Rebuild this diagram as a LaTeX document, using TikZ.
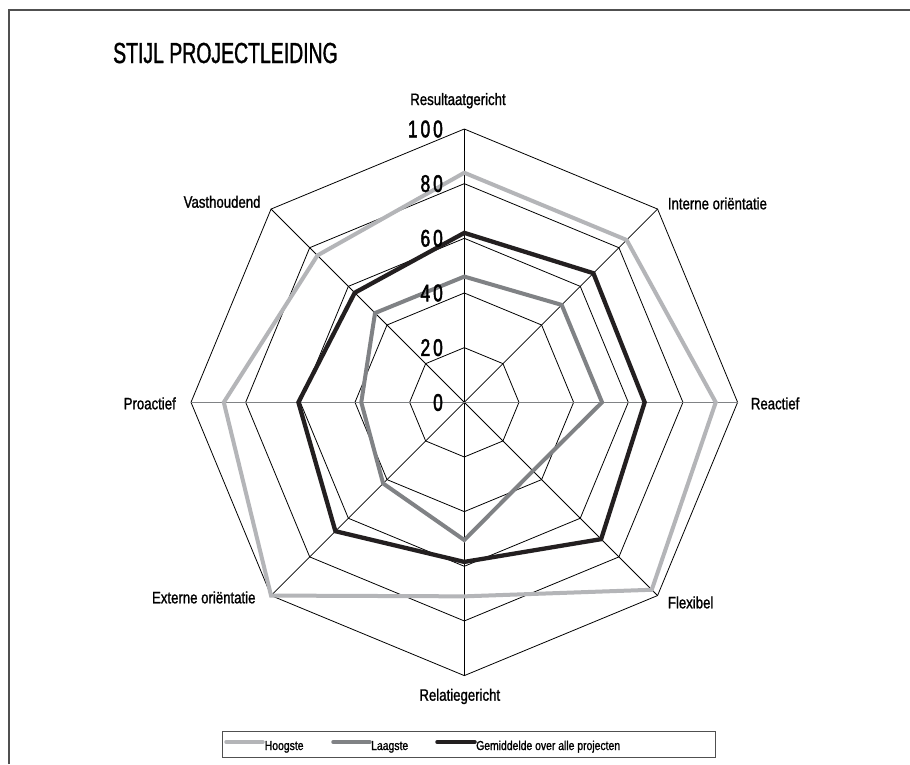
\documentclass[tikz,border=0pt]{standalone}
\usepackage{fontspec}
\setmainfont{Liberation Sans}
\newfontfamily\titlefont{Liberation Sans}[FakeStretch=0.67,FakeBold=1.2]
\newfontfamily\lblfont{Liberation Sans}[FakeStretch=0.8,FakeBold=1.2]
\newfontfamily\numfont{Liberation Sans}[FakeStretch=0.72,FakeBold=2]
\definecolor{hicol}{RGB}{180,181,184}
\definecolor{locol}{RGB}{128,130,133}
\definecolor{avcol}{RGB}{35,31,32}
\definecolor{framecol}{RGB}{80,80,80}
\begin{document}
\begin{tikzpicture}[x=1pt,y=-1pt,
  gridline/.style={line width=0.8pt, black},
  hi/.style={line width=4pt, draw=hicol},
  lo/.style={line width=4pt, draw=locol},
  av/.style={line width=4.3pt, draw=avcol},
  lbl/.style={font=\lblfont\fontsize{16.5}{18}\selectfont, inner sep=0pt},
  num/.style={font=\numfont\fontsize{24}{26}\selectfont, inner sep=0pt, anchor=east},
  leg/.style={font=\lblfont\fontsize{13}{15}\selectfont, inner sep=0pt, anchor=base west}]
\useasboundingbox (0,0) rectangle (910,764);
\fill[white] (0,0) rectangle (910,764);
\draw[framecol, line width=1.4pt] (9,764) -- (9,10) -- (910,10);

\node[anchor=base west, inner sep=0pt, font=\titlefont\fontsize{29}{32}\selectfont] (title) at (113,63) {STIJL PROJECTLEIDING};

\begin{scope}[shift={(464.3,402.3)}]
  \coordinate (C) at (0,0);
  \foreach \k in {1,...,5}{
    \pgfmathsetmacro\rr{\k*54.66}
    \draw[gridline] (0:\rr pt) -- (45:\rr pt) -- (90:\rr pt) -- (135:\rr pt) -- (180:\rr pt) -- (225:\rr pt) -- (270:\rr pt) -- (315:\rr pt) -- cycle;
  }
  \foreach \a in {45,90,135,225,270,315}
    \draw[gridline] (C) -- (\a:273.3pt);
  \draw[line width=1pt, locol] (180:273.3pt) -- (0:273.3pt);

  \draw[hi] (90:{84*2.733pt}) -- (45:{84*2.733pt}) -- (0:{92*2.733pt}) -- (-45:{97*2.733pt}) -- (-90:{71*2.733pt}) -- (-135:{100*2.733pt}) -- (180:{88*2.733pt}) -- (135:{76*2.733pt}) -- cycle;
  \draw[lo] (90:{46*2.733pt}) -- (45:{50.4*2.733pt}) -- (0:{50.4*2.733pt}) -- (-45:{35.5*2.733pt}) -- (-90:{50.4*2.733pt}) -- (-135:{42*2.733pt}) -- (180:{37.7*2.733pt}) -- (135:{46.2*2.733pt}) -- cycle;
  \draw[av] (90:{62*2.733pt}) -- (45:{66.8*2.733pt}) -- (0:{66*2.733pt}) -- (-45:{70.8*2.733pt}) -- (-90:{58.4*2.733pt}) -- (-135:{66.7*2.733pt}) -- (180:{60.7*2.733pt}) -- (135:{56.7*2.733pt}) -- cycle;
\end{scope}

\node[num] (n0) at (443,402.5) {0};
\node[num] (n20) at (443,347.6) {2\hspace{3pt}0};
\node[num] (n40) at (443,293) {4\hspace{3pt}0};
\node[num] (n60) at (443,238.3) {6\hspace{3pt}0};
\node[num] (n80) at (443,183.6) {8\hspace{3pt}0};
\node[num] (n100) at (443,129) {1\hspace{3pt}0\hspace{3pt}0};

\node[lbl, anchor=base] (res) at (458,105) {Resultaatgericht};
\node[lbl, anchor=base west] (int) at (667.7,209.3) {Interne oriëntatie};
\node[lbl, anchor=base west] (rea) at (750.7,409.3) {Reactief};
\node[lbl, anchor=base west] (fle) at (667.7,608.3) {Flexibel};
\node[lbl, anchor=base] (rel) at (459.8,700.7) {Relatiegericht};
\node[lbl, anchor=base east] (ext) at (255.7,603.3) {Externe oriëntatie};
\node[lbl, anchor=base east] (pro) at (176,409.3) {Proactief};
\node[lbl, anchor=base east] (vas) at (260.7,207.7) {Vasthoudend};

\draw[line width=1pt, framecol] (222,731) rectangle (715,757);
\coordinate (l1a) at (226,742); \coordinate (l1b) at (263,742);
\coordinate (l2a) at (333,742); \coordinate (l2b) at (370,742);
\coordinate (l3a) at (437,742); \coordinate (l3b) at (475,742);
\draw[hi, line width=3.5pt, line cap=round] (l1a) -- (l1b);
\draw[lo, line width=3.5pt, line cap=round] (l2a) -- (l2b);
\draw[av, line width=3.5pt, line cap=round] (l3a) -- (l3b);
\node[leg] (t1) at (264.6,750) {Hoogste};
\node[leg] (t2) at (371,750) {Laagste};
\node[leg] (t3) at (476,750) {Gemiddelde over alle projecten};
\end{tikzpicture}
\end{document}
